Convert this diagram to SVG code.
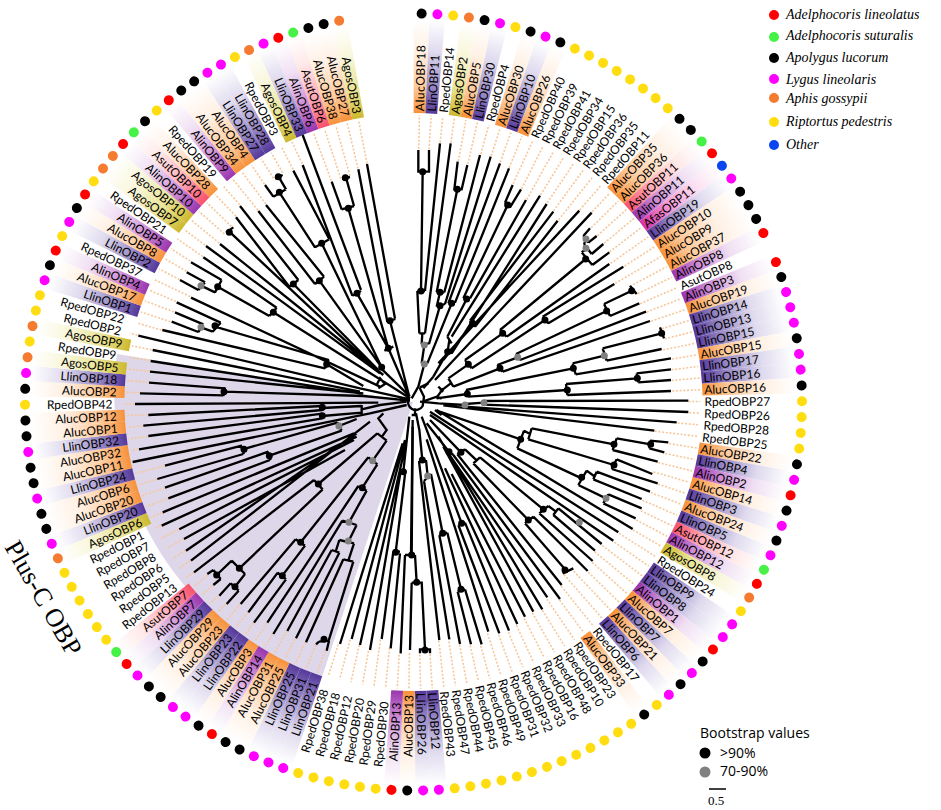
<svg xmlns="http://www.w3.org/2000/svg" width="941" height="810" viewBox="0 0 941 810">
<style>
text{font-family:"Open Sans","Noto Sans","DejaVu Sans",sans-serif;fill:#000}
.R,.L,.Q{font-family:Lato,"Open Sans",sans-serif;font-size:12px;dominant-baseline:central}
.R{transform:rotate(-90deg)}
.L,.Q{transform:rotate(90deg);text-anchor:end}
.o{fill:url(#go)}.v{fill:url(#gv)}.m{fill:url(#gm)}.a{fill:url(#ga)}.s{fill:url(#gs)}.f{fill:url(#gf)}
.dk{fill:#000}.dm{fill:#f0f}.dy{fill:#fd1}.do{fill:#f47b30}.dr{fill:#f00}.dg{fill:#46f246}.db{fill:#0a46f0}
#dotted line{stroke:#f6c79b;stroke-width:1.6;stroke-dasharray:2 1.7;fill:none}
.t{fill:none;stroke:#000;stroke-width:7;stroke-linejoin:miter}
.nk,.ng{fill:none;stroke-linecap:round;stroke-width:21}
.nk{stroke:#000}.ng{stroke:#808080}
.it{font-family:"Liberation Serif",serif;font-style:italic;font-size:14px}
</style>
<defs>
<linearGradient id="go" x1="0" y1="1" x2="0" y2="0"><stop offset="0" stop-color="#f7913a"/><stop offset=".28" stop-color="#fdc99a"/><stop offset=".65" stop-color="#fff0e3"/><stop offset="1" stop-color="#fff"/></linearGradient>
<linearGradient id="gv" x1="0" y1="1" x2="0" y2="0"><stop offset="0" stop-color="#55389a"/><stop offset=".3" stop-color="#9a8cc6"/><stop offset=".65" stop-color="#dfdaee"/><stop offset="1" stop-color="#fff"/></linearGradient>
<linearGradient id="gm" x1="0" y1="1" x2="0" y2="0"><stop offset="0" stop-color="#9a35ae"/><stop offset=".3" stop-color="#cf8fd6"/><stop offset=".65" stop-color="#f0dff3"/><stop offset="1" stop-color="#fff"/></linearGradient>
<linearGradient id="ga" x1="0" y1="1" x2="0" y2="0"><stop offset="0" stop-color="#cdb92e"/><stop offset=".3" stop-color="#e9e393"/><stop offset=".65" stop-color="#f8f6d8"/><stop offset="1" stop-color="#fff"/></linearGradient>
<linearGradient id="gs" x1="0" y1="1" x2="0" y2="0"><stop offset="0" stop-color="#f9516c"/><stop offset=".35" stop-color="#ffb0ba"/><stop offset=".7" stop-color="#ffe8e8"/><stop offset="1" stop-color="#fff"/></linearGradient>
<linearGradient id="gf" x1="0" y1="1" x2="0" y2="0"><stop offset="0" stop-color="#d62fa0"/><stop offset=".35" stop-color="#f39ad6"/><stop offset=".7" stop-color="#fbe0f2"/><stop offset="1" stop-color="#fff"/></linearGradient>
<polygon id="w" points="-5.9,-289 5.9,-289 7.8,-383 -7.8,-383"/>
</defs>
<rect width="941" height="810" fill="#fff"/>
<path id="plusc-sector" d="M413,402L117,354A297,297 0 0 0 322,677Z" fill="#ded7e9"/>
<g transform="translate(413.5 402)">
<g id="n1" transform="rotate(1.2)"><use href="#w" class="o"/><text class="R" x="291" textLength="66">AlucOBP18</text><circle class="dk" cy="-388.5" r="5"/></g>
<g id="n2" transform="rotate(3.53)"><use href="#w" class="v"/><text class="R" x="291">LlinOBP11</text><circle class="dm" cy="-388.5" r="5"/></g>
<g id="n3" transform="rotate(5.87)"><text class="R" x="291">RpedOBP14</text><circle class="dy" cy="-388.5" r="5"/></g>
<g id="n4" transform="rotate(8.2)"><use href="#w" class="a"/><text class="R" x="291">AgosOBP2</text><circle class="do" cy="-388.5" r="5"/></g>
<g id="n5" transform="rotate(10.54)"><use href="#w" class="o"/><text class="R" x="291">AlucOBP5</text><circle class="dk" cy="-388.5" r="5"/></g>
<g id="n6" transform="rotate(12.87)"><use href="#w" class="v"/><text class="R" x="291">LlinOBP30</text><circle class="dm" cy="-388.5" r="5"/></g>
<g id="n7" transform="rotate(15.2)"><text class="R" x="291">RpedOBP4</text><circle class="dy" cy="-388.5" r="5"/></g>
<g id="n8" transform="rotate(17.54)"><use href="#w" class="o"/><text class="R" x="291">AlucOBP30</text><circle class="dk" cy="-388.5" r="5"/></g>
<g id="n9" transform="rotate(19.87)"><use href="#w" class="v"/><text class="R" x="291">LlinOBP10</text><circle class="dm" cy="-388.5" r="5"/></g>
<g id="n10" transform="rotate(22.21)"><use href="#w" class="o"/><text class="R" x="291">AlucOBP26</text><circle class="dk" cy="-388.5" r="5"/></g>
<g id="n11" transform="rotate(24.54)"><text class="R" x="291">RpedOBP40</text><circle class="dy" cy="-388.5" r="5"/></g>
<g id="n12" transform="rotate(26.87)"><text class="R" x="291">RpedOBP39</text><circle class="dy" cy="-388.5" r="5"/></g>
<g id="n13" transform="rotate(29.21)"><text class="R" x="291">RpedOBP41</text><circle class="dy" cy="-388.5" r="5"/></g>
<g id="n14" transform="rotate(31.54)"><text class="R" x="291">RpedOBP34</text><circle class="dy" cy="-388.5" r="5"/></g>
<g id="n15" transform="rotate(33.88)"><text class="R" x="291">RpedOBP15</text><circle class="dy" cy="-388.5" r="5"/></g>
<g id="n16" transform="rotate(36.21)"><text class="R" x="291">RpedOBP36</text><circle class="dy" cy="-388.5" r="5"/></g>
<g id="n17" transform="rotate(38.54)"><text class="R" x="291">RpedOBP35</text><circle class="dy" cy="-388.5" r="5"/></g>
<g id="n18" transform="rotate(40.88)"><text class="R" x="291">RpedOBP11</text><circle class="dy" cy="-388.5" r="5"/></g>
<g id="n19" transform="rotate(43.21)"><use href="#w" class="o"/><text class="R" x="291">AlucOBP35</text><circle class="dk" cy="-388.5" r="5"/></g>
<g id="n20" transform="rotate(45.55)"><use href="#w" class="o"/><text class="R" x="291">AlucOBP36</text><circle class="dk" cy="-388.5" r="5"/></g>
<g id="n21" transform="rotate(47.88)"><use href="#w" class="s"/><text class="R" x="291">AsutOBP11</text><circle class="dg" cy="-388.5" r="5"/></g>
<g id="n22" transform="rotate(50.21)"><use href="#w" class="m"/><text class="R" x="291">AlinOBP11</text><circle class="dr" cy="-388.5" r="5"/></g>
<g id="n23" transform="rotate(52.55)"><use href="#w" class="f"/><text class="R" x="291">AfasOBP11</text><circle class="db" cy="-388.5" r="5"/></g>
<g id="n24" transform="rotate(54.88)"><use href="#w" class="v"/><text class="R" x="291">LlinOBP19</text><circle class="dm" cy="-388.5" r="5"/></g>
<g id="n25" transform="rotate(57.22)"><use href="#w" class="o"/><text class="R" x="291">AlucOBP10</text><circle class="dk" cy="-388.5" r="5"/></g>
<g id="n26" transform="rotate(59.55)"><use href="#w" class="o"/><text class="R" x="291">AlucOBP9</text><circle class="dk" cy="-388.5" r="5"/></g>
<g id="n27" transform="rotate(61.88)"><use href="#w" class="o"/><text class="R" x="291">AlucOBP37</text><circle class="dk" cy="-388.5" r="5"/></g>
<g id="n28" transform="rotate(64.22)"><use href="#w" class="m"/><text class="R" x="291">AlinOBP8</text><circle class="dr" cy="-388.5" r="5"/></g>
<g id="n29" transform="rotate(66.55)"><text class="R" x="291">AsutOBP8</text></g>
<g id="n30" transform="rotate(68.89)"><use href="#w" class="m"/><text class="R" x="291">AlinOBP3</text><circle class="dr" cy="-388.5" r="5"/></g>
<g id="n31" transform="rotate(71.22)"><use href="#w" class="o"/><text class="R" x="291">AlucOBP19</text><circle class="dk" cy="-388.5" r="5"/></g>
<g id="n32" transform="rotate(73.55)"><use href="#w" class="v"/><text class="R" x="291">LlinOBP14</text><circle class="dm" cy="-388.5" r="5"/></g>
<g id="n33" transform="rotate(75.89)"><use href="#w" class="v"/><text class="R" x="291">LlinOBP13</text><circle class="dm" cy="-388.5" r="5"/></g>
<g id="n34" transform="rotate(78.22)"><use href="#w" class="v"/><text class="R" x="291">LlinOBP15</text><circle class="dm" cy="-388.5" r="5"/></g>
<g id="n35" transform="rotate(80.56)"><use href="#w" class="o"/><text class="R" x="291">AlucOBP15</text><circle class="dk" cy="-388.5" r="5"/></g>
<g id="n36" transform="rotate(82.89)"><use href="#w" class="v"/><text class="R" x="291">LlinOBP17</text><circle class="dm" cy="-388.5" r="5"/></g>
<g id="n37" transform="rotate(85.22)"><use href="#w" class="v"/><text class="R" x="291">LlinOBP16</text><circle class="dm" cy="-388.5" r="5"/></g>
<g id="n38" transform="rotate(87.56)"><use href="#w" class="o"/><text class="R" x="291">AlucOBP16</text><circle class="dk" cy="-388.5" r="5"/></g>
<g id="n39" transform="rotate(89.89)"><text class="R" x="291">RpedOBP27</text><circle class="dy" cy="-388.5" r="5"/></g>
<g id="n40" transform="rotate(92.23)"><text class="R" x="291">RpedOBP26</text><circle class="dy" cy="-388.5" r="5"/></g>
<g id="n41" transform="rotate(94.56)"><text class="R" x="291">RpedOBP28</text><circle class="dy" cy="-388.5" r="5"/></g>
<g id="n42" transform="rotate(96.89)"><text class="R" x="291">RpedOBP25</text><circle class="dy" cy="-388.5" r="5"/></g>
<g id="n43" transform="rotate(99.23)"><use href="#w" class="o"/><text class="R" x="291">AlucOBP22</text><circle class="dk" cy="-388.5" r="5"/></g>
<g id="n44" transform="rotate(101.56)"><use href="#w" class="v"/><text class="R" x="291">LlinOBP4</text><circle class="dm" cy="-388.5" r="5"/></g>
<g id="n45" transform="rotate(103.9)"><use href="#w" class="m"/><text class="R" x="291">AlinOBP2</text><circle class="dr" cy="-388.5" r="5"/></g>
<g id="n46" transform="rotate(106.23)"><use href="#w" class="o"/><text class="R" x="291">AlucOBP14</text><circle class="dk" cy="-388.5" r="5"/></g>
<g id="n47" transform="rotate(108.56)"><use href="#w" class="v"/><text class="R" x="291">LlinOBP3</text><circle class="dm" cy="-388.5" r="5"/></g>
<g id="n48" transform="rotate(110.9)"><use href="#w" class="o"/><text class="R" x="291">AlucOBP24</text><circle class="dk" cy="-388.5" r="5"/></g>
<g id="n49" transform="rotate(113.23)"><use href="#w" class="v"/><text class="R" x="291">LlinOBP5</text><circle class="dm" cy="-388.5" r="5"/></g>
<g id="n50" transform="rotate(115.57)"><use href="#w" class="s"/><text class="R" x="291">AsutOBP12</text><circle class="dg" cy="-388.5" r="5"/></g>
<g id="n51" transform="rotate(117.9)"><use href="#w" class="m"/><text class="R" x="291">AlinOBP12</text><circle class="dr" cy="-388.5" r="5"/></g>
<g id="n52" transform="rotate(120.23)"><use href="#w" class="a"/><text class="R" x="291">AgosOBP8</text><circle class="do" cy="-388.5" r="5"/></g>
<g id="n53" transform="rotate(122.57)"><text class="R" x="291">RpedOBP24</text><circle class="dy" cy="-388.5" r="5"/></g>
<g id="n54" transform="rotate(124.9)"><use href="#w" class="v"/><text class="R" x="291">LlinOBP9</text><circle class="dm" cy="-388.5" r="5"/></g>
<g id="n55" transform="rotate(127.24)"><use href="#w" class="v"/><text class="R" x="291">LlinOBP8</text><circle class="dm" cy="-388.5" r="5"/></g>
<g id="n56" transform="rotate(129.57)"><use href="#w" class="m"/><text class="R" x="291">AlinOBP1</text><circle class="dr" cy="-388.5" r="5"/></g>
<g id="n57" transform="rotate(131.9)"><use href="#w" class="o"/><text class="R" x="291">AlucOBP7</text><circle class="dk" cy="-388.5" r="5"/></g>
<g id="n58" transform="rotate(134.24)"><use href="#w" class="v"/><text class="R" x="291">LlinOBP7</text><circle class="dm" cy="-388.5" r="5"/></g>
<g id="n59" transform="rotate(136.57)"><use href="#w" class="o"/><text class="R" x="291">AlucOBP21</text><circle class="dk" cy="-388.5" r="5"/></g>
<g id="n60" transform="rotate(138.91)"><use href="#w" class="v"/><text class="R" x="291">LlinOBP6</text><circle class="dm" cy="-388.5" r="5"/></g>
<g id="n61" transform="rotate(141.24)"><text class="R" x="291">RpedOBP17</text><circle class="dy" cy="-388.5" r="5"/></g>
<g id="n62" transform="rotate(143.57)"><use href="#w" class="o"/><text class="R" x="291">AlucOBP33</text><circle class="dk" cy="-388.5" r="5"/></g>
<g id="n63" transform="rotate(145.91)"><text class="R" x="291">RpedOBP23</text><circle class="dy" cy="-388.5" r="5"/></g>
<g id="n64" transform="rotate(148.24)"><text class="R" x="291">RpedOBP10</text><circle class="dy" cy="-388.5" r="5"/></g>
<g id="n65" transform="rotate(150.58)"><text class="R" x="291">RpedOBP48</text><circle class="dy" cy="-388.5" r="5"/></g>
<g id="n66" transform="rotate(152.91)"><text class="R" x="291">RpedOBP16</text><circle class="dy" cy="-388.5" r="5"/></g>
<g id="n67" transform="rotate(155.24)"><text class="R" x="291">RpedOBP33</text><circle class="dy" cy="-388.5" r="5"/></g>
<g id="n68" transform="rotate(157.58)"><text class="R" x="291">RpedOBP32</text><circle class="dy" cy="-388.5" r="5"/></g>
<g id="n69" transform="rotate(159.91)"><text class="R" x="291">RpedOBP31</text><circle class="dy" cy="-388.5" r="5"/></g>
<g id="n70" transform="rotate(162.25)"><text class="R" x="291">RpedOBP49</text><circle class="dy" cy="-388.5" r="5"/></g>
<g id="n71" transform="rotate(164.58)"><text class="R" x="291">RpedOBP46</text><circle class="dy" cy="-388.5" r="5"/></g>
<g id="n72" transform="rotate(166.91)"><text class="R" x="291">RpedOBP45</text><circle class="dy" cy="-388.5" r="5"/></g>
<g id="n73" transform="rotate(169.25)"><text class="R" x="291">RpedOBP44</text><circle class="dy" cy="-388.5" r="5"/></g>
<g id="n74" transform="rotate(171.58)"><text class="R" x="291">RpedOBP47</text><circle class="dy" cy="-388.5" r="5"/></g>
<g id="n75" transform="rotate(173.92)"><text class="R" x="291">RpedOBP43</text><circle class="dy" cy="-388.5" r="5"/></g>
<g id="n76" transform="rotate(176.25)"><use href="#w" class="v"/><text class="R" x="291">LlinOBP12</text><circle class="dm" cy="-388.5" r="5"/></g>
<g id="n77" transform="rotate(178.58)"><use href="#w" class="v"/><text class="R" x="291" textLength="62">LlinOBP26</text><circle class="dm" cy="-388.5" r="5"/></g>
<g id="n78" transform="rotate(180.92)"><use href="#w" class="o"/><text class="L" x="-293" textLength="62">AlucOBP13</text><circle class="dk" cy="-388.5" r="5"/></g>
<g id="n79" transform="rotate(183.25)"><use href="#w" class="m"/><text class="L" x="-301">AlinOBP13</text><circle class="dr" cy="-388.5" r="5"/></g>
<g id="n80" transform="rotate(185.59)"><text class="Q" x="-301">RpedOBP30</text><circle class="dy" cy="-388.5" r="5"/></g>
<g id="n81" transform="rotate(187.92)"><text class="Q" x="-301">RpedOBP29</text><circle class="dy" cy="-388.5" r="5"/></g>
<g id="n82" transform="rotate(190.25)"><text class="Q" x="-301">RpedOBP20</text><circle class="dy" cy="-388.5" r="5"/></g>
<g id="n83" transform="rotate(192.59)"><text class="Q" x="-301">RpedOBP12</text><circle class="dy" cy="-388.5" r="5"/></g>
<g id="n84" transform="rotate(194.92)"><text class="Q" x="-301">RpedOBP18</text><circle class="dy" cy="-388.5" r="5"/></g>
<g id="n85" transform="rotate(197.26)"><text class="Q" x="-301">RpedOBP38</text><circle class="dy" cy="-388.5" r="5"/></g>
<g id="n86" transform="rotate(199.59)"><use href="#w" class="v"/><text class="L" x="-297">LlinOBP21</text><circle class="dm" cy="-388.5" r="5"/></g>
<g id="n87" transform="rotate(201.92)"><use href="#w" class="v"/><text class="L" x="-297">LlinOBP31</text><circle class="dm" cy="-388.5" r="5"/></g>
<g id="n88" transform="rotate(204.26)"><use href="#w" class="v"/><text class="L" x="-297">LlinOBP25</text><circle class="dm" cy="-388.5" r="5"/></g>
<g id="n89" transform="rotate(206.59)"><use href="#w" class="o"/><text class="L" x="-297">AlucOBP25</text><circle class="dk" cy="-388.5" r="5"/></g>
<g id="n90" transform="rotate(208.93)"><use href="#w" class="o"/><text class="L" x="-297">AlucOBP31</text><circle class="dk" cy="-388.5" r="5"/></g>
<g id="n91" transform="rotate(211.26)"><use href="#w" class="m"/><text class="L" x="-297">AlinOBP14</text><circle class="dr" cy="-388.5" r="5"/></g>
<g id="n92" transform="rotate(213.59)"><use href="#w" class="o"/><text class="L" x="-297">AlucOBP3</text><circle class="dk" cy="-388.5" r="5"/></g>
<g id="n93" transform="rotate(215.93)"><use href="#w" class="v"/><text class="L" x="-297">LlinOBP22</text><circle class="dm" cy="-388.5" r="5"/></g>
<g id="n94" transform="rotate(218.26)"><use href="#w" class="v"/><text class="L" x="-297">LlinOBP23</text><circle class="dm" cy="-388.5" r="5"/></g>
<g id="n95" transform="rotate(220.6)"><use href="#w" class="o"/><text class="L" x="-297">AlucOBP23</text><circle class="dk" cy="-388.5" r="5"/></g>
<g id="n96" transform="rotate(222.93)"><use href="#w" class="o"/><text class="L" x="-297">AlucOBP29</text><circle class="dk" cy="-388.5" r="5"/></g>
<g id="n97" transform="rotate(225.26)"><use href="#w" class="v"/><text class="L" x="-297">LlinOBP29</text><circle class="dm" cy="-388.5" r="5"/></g>
<g id="n98" transform="rotate(227.6)"><use href="#w" class="m"/><text class="L" x="-297">AlinOBP7</text><circle class="dr" cy="-388.5" r="5"/></g>
<g id="n99" transform="rotate(229.93)"><use href="#w" class="s"/><text class="L" x="-297">AsutOBP7</text><circle class="dg" cy="-388.5" r="5"/></g>
<g id="n100" transform="rotate(232.27)"><text class="Q" x="-301">RpedOBP13</text><circle class="dy" cy="-388.5" r="5"/></g>
<g id="n101" transform="rotate(234.6)"><text class="Q" x="-301">RpedOBP5</text><circle class="dy" cy="-388.5" r="5"/></g>
<g id="n102" transform="rotate(236.93)"><text class="Q" x="-301">RpedOBP6</text><circle class="dy" cy="-388.5" r="5"/></g>
<g id="n103" transform="rotate(239.27)"><text class="Q" x="-301">RpedOBP8</text><circle class="dy" cy="-388.5" r="5"/></g>
<g id="n104" transform="rotate(241.6)"><text class="Q" x="-301">RpedOBP7</text><circle class="dy" cy="-388.5" r="5"/></g>
<g id="n105" transform="rotate(243.94)"><text class="Q" x="-301">RpedOBP1</text><circle class="dy" cy="-388.5" r="5"/></g>
<g id="n106" transform="rotate(246.27)"><use href="#w" class="a"/><text class="L" x="-297">AgosOBP6</text><circle class="do" cy="-388.5" r="5"/></g>
<g id="n107" transform="rotate(248.6)"><use href="#w" class="v"/><text class="L" x="-297">LlinOBP20</text><circle class="dm" cy="-388.5" r="5"/></g>
<g id="n108" transform="rotate(250.94)"><use href="#w" class="o"/><text class="L" x="-297">AlucOBP20</text><circle class="dk" cy="-388.5" r="5"/></g>
<g id="n109" transform="rotate(253.27)"><use href="#w" class="o"/><text class="L" x="-297">AlucOBP6</text><circle class="dk" cy="-388.5" r="5"/></g>
<g id="n110" transform="rotate(255.61)"><use href="#w" class="v"/><text class="L" x="-297">LlinOBP24</text><circle class="dm" cy="-388.5" r="5"/></g>
<g id="n111" transform="rotate(257.94)"><use href="#w" class="o"/><text class="L" x="-297">AlucOBP11</text><circle class="dk" cy="-388.5" r="5"/></g>
<g id="n112" transform="rotate(260.27)"><use href="#w" class="o"/><text class="L" x="-297">AlucOBP32</text><circle class="dk" cy="-388.5" r="5"/></g>
<g id="n113" transform="rotate(262.61)"><use href="#w" class="v"/><text class="L" x="-297">LlinOBP32</text><circle class="dm" cy="-388.5" r="5"/></g>
<g id="n114" transform="rotate(264.94)"><use href="#w" class="o"/><text class="L" x="-297">AlucOBP1</text><circle class="dk" cy="-388.5" r="5"/></g>
<g id="n115" transform="rotate(267.28)"><use href="#w" class="o"/><text class="L" x="-297">AlucOBP12</text><circle class="dk" cy="-388.5" r="5"/></g>
<g id="n116" transform="rotate(269.61)"><text class="Q" x="-301">RpedOBP42</text><circle class="dy" cy="-388.5" r="5"/></g>
<g id="n117" transform="rotate(271.94)"><use href="#w" class="o"/><text class="L" x="-297">AlucOBP2</text><circle class="dk" cy="-388.5" r="5"/></g>
<g id="n118" transform="rotate(274.28)"><use href="#w" class="v"/><text class="L" x="-297">LlinOBP18</text><circle class="dm" cy="-388.5" r="5"/></g>
<g id="n119" transform="rotate(276.61)"><use href="#w" class="a"/><text class="L" x="-297">AgosOBP5</text><circle class="do" cy="-388.5" r="5"/></g>
<g id="n120" transform="rotate(278.95)"><text class="Q" x="-301">RpedOBP9</text><circle class="dy" cy="-388.5" r="5"/></g>
<g id="n121" transform="rotate(281.28)"><use href="#w" class="a"/><text class="L" x="-297">AgosOBP9</text><circle class="do" cy="-388.5" r="5"/></g>
<g id="n122" transform="rotate(283.61)"><text class="Q" x="-301">RpedOBP2</text><circle class="dy" cy="-388.5" r="5"/></g>
<g id="n123" transform="rotate(285.95)"><text class="Q" x="-301">RpedOBP22</text><circle class="dy" cy="-388.5" r="5"/></g>
<g id="n124" transform="rotate(288.28)"><use href="#w" class="v"/><text class="L" x="-297">LlinOBP1</text><circle class="dm" cy="-388.5" r="5"/></g>
<g id="n125" transform="rotate(290.62)"><use href="#w" class="o"/><text class="L" x="-297">AlucOBP17</text><circle class="dk" cy="-388.5" r="5"/></g>
<g id="n126" transform="rotate(292.95)"><use href="#w" class="m"/><text class="L" x="-297">AlinOBP4</text><circle class="dr" cy="-388.5" r="5"/></g>
<g id="n127" transform="rotate(295.28)"><text class="Q" x="-301">RpedOBP37</text><circle class="dy" cy="-388.5" r="5"/></g>
<g id="n128" transform="rotate(297.62)"><use href="#w" class="v"/><text class="L" x="-297">LlinOBP2</text><circle class="dm" cy="-388.5" r="5"/></g>
<g id="n129" transform="rotate(299.95)"><use href="#w" class="o"/><text class="L" x="-297">AlucOBP8</text><circle class="dk" cy="-388.5" r="5"/></g>
<g id="n130" transform="rotate(302.29)"><use href="#w" class="m"/><text class="L" x="-297">AlinOBP5</text><circle class="dr" cy="-388.5" r="5"/></g>
<g id="n131" transform="rotate(304.62)"><text class="Q" x="-301">RpedOBP21</text><circle class="dy" cy="-388.5" r="5"/></g>
<g id="n132" transform="rotate(306.95)"><use href="#w" class="a"/><text class="L" x="-297">AgosOBP7</text><circle class="do" cy="-388.5" r="5"/></g>
<g id="n133" transform="rotate(309.29)"><use href="#w" class="a"/><text class="L" x="-297">AgosOBP10</text><circle class="do" cy="-388.5" r="5"/></g>
<g id="n134" transform="rotate(311.62)"><use href="#w" class="m"/><text class="L" x="-297">AlinOBP10</text><circle class="dr" cy="-388.5" r="5"/></g>
<g id="n135" transform="rotate(313.96)"><use href="#w" class="s"/><text class="L" x="-297">AsutOBP10</text><circle class="dg" cy="-388.5" r="5"/></g>
<g id="n136" transform="rotate(316.29)"><use href="#w" class="o"/><text class="L" x="-297">AlucOBP28</text><circle class="dk" cy="-388.5" r="5"/></g>
<g id="n137" transform="rotate(318.62)"><text class="Q" x="-301">RpedOBP19</text><circle class="dy" cy="-388.5" r="5"/></g>
<g id="n138" transform="rotate(320.96)"><use href="#w" class="m"/><text class="L" x="-297">AlinOBP9</text><circle class="dr" cy="-388.5" r="5"/></g>
<g id="n139" transform="rotate(323.29)"><use href="#w" class="o"/><text class="L" x="-297">AlucOBP34</text><circle class="dk" cy="-388.5" r="5"/></g>
<g id="n140" transform="rotate(325.63)"><use href="#w" class="o"/><text class="L" x="-297">AlucOBP4</text><circle class="dk" cy="-388.5" r="5"/></g>
<g id="n141" transform="rotate(327.96)"><use href="#w" class="v"/><text class="L" x="-297">LlinOBP27</text><circle class="dm" cy="-388.5" r="5"/></g>
<g id="n142" transform="rotate(330.29)"><use href="#w" class="v"/><text class="L" x="-297">LlinOBP28</text><circle class="dm" cy="-388.5" r="5"/></g>
<g id="n143" transform="rotate(332.63)"><text class="Q" x="-301">RpedOBP3</text><circle class="dy" cy="-388.5" r="5"/></g>
<g id="n144" transform="rotate(334.96)"><use href="#w" class="a"/><text class="L" x="-294">AgosOBP4</text><circle class="do" cy="-388.5" r="5"/></g>
<g id="n145" transform="rotate(337.3)"><use href="#w" class="v"/><text class="L" x="-294">LlinOBP33</text><circle class="dm" cy="-388.5" r="5"/></g>
<g id="n146" transform="rotate(339.63)"><use href="#w" class="m"/><text class="L" x="-294">AlinOBP6</text><circle class="dr" cy="-388.5" r="5"/></g>
<g id="n147" transform="rotate(341.96)"><use href="#w" class="s"/><text class="L" x="-294">AsutOBP6</text><circle class="dg" cy="-388.5" r="5"/></g>
<g id="n148" transform="rotate(344.3)"><use href="#w" class="o"/><text class="L" x="-294">AlucOBP38</text><circle class="dk" cy="-388.5" r="5"/></g>
<g id="n149" transform="rotate(346.63)"><use href="#w" class="o"/><text class="L" x="-294">AlucOBP27</text><circle class="dk" cy="-388.5" r="5"/></g>
<g id="n150" transform="rotate(348.97)"><use href="#w" class="a"/><text class="L" x="-294">AgosOBP3</text><circle class="do" cy="-388.5" r="5"/></g>
</g>
<g id="connectors">
<g id="dotted" transform="translate(413.5 402)">
<line transform="rotate(1.2)" y1="-253" y2="-287"/><line transform="rotate(3.53)" y1="-253" y2="-287"/><line transform="rotate(5.87)" y1="-261" y2="-287"/><line transform="rotate(8.2)" y1="-262" y2="-287"/><line transform="rotate(10.54)" y1="-245" y2="-287"/><line transform="rotate(12.87)" y1="-244" y2="-287"/><line transform="rotate(15.2)" y1="-257" y2="-287"/><line transform="rotate(17.54)" y1="-258" y2="-287"/><line transform="rotate(19.87)" y1="-255" y2="-287"/><line transform="rotate(22.21)" y1="-253" y2="-287"/>
<line transform="rotate(24.54)" y1="-240" y2="-287"/><line transform="rotate(26.87)" y1="-239" y2="-287"/><line transform="rotate(29.21)" y1="-232" y2="-287"/><line transform="rotate(31.54)" y1="-243" y2="-287"/><line transform="rotate(33.88)" y1="-240" y2="-287"/><line transform="rotate(36.21)" y1="-237" y2="-287"/><line transform="rotate(38.54)" y1="-233" y2="-287"/><line transform="rotate(40.88)" y1="-254" y2="-287"/><line transform="rotate(43.21)" y1="-261" y2="-287"/><line transform="rotate(45.55)" y1="-249" y2="-287"/>
<line transform="rotate(47.88)" y1="-248" y2="-287"/><line transform="rotate(50.21)" y1="-248" y2="-287"/><line transform="rotate(52.55)" y1="-247" y2="-287"/><line transform="rotate(54.88)" y1="-241" y2="-287"/><line transform="rotate(57.22)" y1="-251" y2="-287"/><line transform="rotate(59.55)" y1="-234" y2="-287"/><line transform="rotate(61.88)" y1="-249" y2="-287"/><line transform="rotate(64.22)" y1="-249" y2="-287"/><line transform="rotate(66.55)" y1="-247" y2="-287"/><line transform="rotate(68.89)" y1="-250" y2="-287"/>
<line transform="rotate(71.22)" y1="-251" y2="-287"/><line transform="rotate(73.55)" y1="-259" y2="-287"/><line transform="rotate(75.89)" y1="-259" y2="-287"/><line transform="rotate(78.22)" y1="-255" y2="-287"/><line transform="rotate(80.56)" y1="-262" y2="-287"/><line transform="rotate(82.89)" y1="-260" y2="-287"/><line transform="rotate(85.22)" y1="-259" y2="-287"/><line transform="rotate(87.56)" y1="-259" y2="-287"/><line transform="rotate(89.89)" y1="-275" y2="-287"/><line transform="rotate(92.23)" y1="-276" y2="-287"/>
<line transform="rotate(94.56)" y1="-265" y2="-287"/><line transform="rotate(96.89)" y1="-243" y2="-287"/><line transform="rotate(99.23)" y1="-259" y2="-287"/><line transform="rotate(101.56)" y1="-257" y2="-287"/><line transform="rotate(103.9)" y1="-252" y2="-287"/><line transform="rotate(106.23)" y1="-250" y2="-287"/><line transform="rotate(108.56)" y1="-258" y2="-287"/><line transform="rotate(110.9)" y1="-254" y2="-287"/><line transform="rotate(113.23)" y1="-249" y2="-287"/><line transform="rotate(115.57)" y1="-252" y2="-287"/>
<line transform="rotate(117.9)" y1="-252" y2="-287"/><line transform="rotate(120.23)" y1="-254" y2="-287"/><line transform="rotate(122.57)" y1="-244" y2="-287"/><line transform="rotate(124.9)" y1="-245" y2="-287"/><line transform="rotate(127.24)" y1="-237" y2="-287"/><line transform="rotate(129.57)" y1="-235" y2="-287"/><line transform="rotate(131.9)" y1="-240" y2="-287"/><line transform="rotate(134.24)" y1="-244" y2="-287"/><line transform="rotate(136.57)" y1="-233" y2="-287"/><line transform="rotate(138.91)" y1="-229" y2="-287"/>
<line transform="rotate(141.24)" y1="-236" y2="-287"/><line transform="rotate(143.57)" y1="-246" y2="-287"/><line transform="rotate(145.91)" y1="-238" y2="-287"/><line transform="rotate(148.24)" y1="-245" y2="-287"/><line transform="rotate(150.58)" y1="-242" y2="-287"/><line transform="rotate(152.91)" y1="-243" y2="-287"/><line transform="rotate(155.24)" y1="-246" y2="-287"/><line transform="rotate(157.58)" y1="-249" y2="-287"/><line transform="rotate(159.91)" y1="-248" y2="-287"/><line transform="rotate(162.25)" y1="-243" y2="-287"/>
<line transform="rotate(164.58)" y1="-253" y2="-287"/><line transform="rotate(166.91)" y1="-250" y2="-287"/><line transform="rotate(169.25)" y1="-247" y2="-287"/><line transform="rotate(171.58)" y1="-242" y2="-287"/><line transform="rotate(173.92)" y1="-240" y2="-287"/><line transform="rotate(176.25)" y1="-249" y2="-287"/><line transform="rotate(178.58)" y1="-249" y2="-287"/><line transform="rotate(180.92)" y1="-251" y2="-287"/><line transform="rotate(183.25)" y1="-253" y2="-287"/><line transform="rotate(185.59)" y1="-247" y2="-287"/>
<line transform="rotate(187.92)" y1="-240" y2="-287"/><line transform="rotate(190.25)" y1="-253" y2="-287"/><line transform="rotate(192.59)" y1="-249" y2="-287"/><line transform="rotate(194.92)" y1="-246" y2="-287"/><line transform="rotate(197.26)" y1="-254" y2="-287"/><line transform="rotate(199.59)" y1="-264" y2="-287"/><line transform="rotate(201.92)" y1="-262" y2="-287"/><line transform="rotate(204.26)" y1="-264" y2="-287"/><line transform="rotate(206.59)" y1="-265" y2="-287"/><line transform="rotate(208.93)" y1="-262" y2="-287"/>
<line transform="rotate(211.26)" y1="-272" y2="-287"/><line transform="rotate(213.59)" y1="-265" y2="-287"/><line transform="rotate(215.93)" y1="-273" y2="-287"/><line transform="rotate(218.26)" y1="-268" y2="-287"/><line transform="rotate(220.6)" y1="-266" y2="-287"/><line transform="rotate(222.93)" y1="-276" y2="-287"/><line transform="rotate(225.26)" y1="-275" y2="-287"/><line transform="rotate(227.6)" y1="-272" y2="-287"/><line transform="rotate(229.93)" y1="-269" y2="-287"/><line transform="rotate(232.27)" y1="-278" y2="-287"/>
<line transform="rotate(234.6)" y1="-274" y2="-287"/><line transform="rotate(236.93)" y1="-272" y2="-287"/><line transform="rotate(239.27)" y1="-268" y2="-287"/><line transform="rotate(241.6)" y1="-267" y2="-287"/><line transform="rotate(243.94)" y1="-281" y2="-287"/><line transform="rotate(246.27)" y1="-275" y2="-287"/><line transform="rotate(248.6)" y1="-264" y2="-287"/><line transform="rotate(250.94)" y1="-263" y2="-287"/><line transform="rotate(253.27)" y1="-268" y2="-287"/><line transform="rotate(255.61)" y1="-257" y2="-287"/>
<line transform="rotate(260.27)" y1="-279" y2="-287"/><line transform="rotate(262.61)" y1="-268" y2="-287"/><line transform="rotate(264.94)" y1="-272" y2="-287"/><line transform="rotate(267.28)" y1="-266" y2="-287"/><line transform="rotate(269.61)" y1="-279" y2="-290"/><line transform="rotate(271.94)" y1="-274" y2="-287"/><line transform="rotate(274.28)" y1="-266" y2="-287"/><line transform="rotate(276.61)" y1="-266" y2="-287"/><line transform="rotate(278.95)" y1="-267" y2="-287"/><line transform="rotate(281.28)" y1="-267" y2="-287"/>
<line transform="rotate(283.61)" y1="-284" y2="-292"/><line transform="rotate(285.95)" y1="-262" y2="-287"/><line transform="rotate(288.28)" y1="-256" y2="-287"/><line transform="rotate(290.62)" y1="-256" y2="-287"/><line transform="rotate(292.95)" y1="-258" y2="-287"/><line transform="rotate(295.28)" y1="-247" y2="-287"/><line transform="rotate(297.62)" y1="-264" y2="-287"/><line transform="rotate(299.95)" y1="-262" y2="-287"/><line transform="rotate(302.29)" y1="-264" y2="-287"/><line transform="rotate(304.62)" y1="-256" y2="-287"/>
<line transform="rotate(306.95)" y1="-261" y2="-287"/><line transform="rotate(309.29)" y1="-251" y2="-287"/><line transform="rotate(311.62)" y1="-253" y2="-287"/><line transform="rotate(313.96)" y1="-253" y2="-287"/><line transform="rotate(316.29)" y1="-257" y2="-287"/><line transform="rotate(318.62)" y1="-263" y2="-287"/><line transform="rotate(320.96)" y1="-247" y2="-287"/><line transform="rotate(323.29)" y1="-247" y2="-287"/><line transform="rotate(325.63)" y1="-264" y2="-287"/><line transform="rotate(327.96)" y1="-264" y2="-287"/>
<line transform="rotate(330.29)" y1="-264" y2="-287"/><line transform="rotate(332.63)" y1="-262" y2="-287"/><line transform="rotate(334.96)" y1="-263" y2="-287"/><line transform="rotate(339.63)" y1="-236" y2="-287"/><line transform="rotate(341.96)" y1="-235" y2="-287"/><line transform="rotate(344.3)" y1="-235" y2="-287"/><line transform="rotate(346.63)" y1="-240" y2="-287"/><line transform="rotate(348.97)" y1="-243" y2="-287"/>
</g>
<g id="tree-ul" transform="translate(130 130) scale(.33333)">
<path class="t" d="M711,102L795,566M685,118L772,575M770,576L796,567M780,572L838,800M605,155L635,238M636,146L660,141M648,143L672,228M635,238L672,228M655,235L775,655M518,15L693,480M518,105L667,497M667,497L693,482M681,490L775,655M763,662L790,650M775,655L838,800M435,145L458,135M447,142L468,178M405,165L430,200M430,200L468,178M448,187L555,352M490,122L598,328M555,352L598,328M575,340L755,712M408,225L582,440M385,243L555,462M555,462L582,440M568,452L755,712M330,228L505,450M318,262L478,470M478,470L505,450M490,462L745,720M288,308L310,292M298,305L745,725M270,342L760,735M228,348L750,730M220,382L440,533M418,558L440,533M430,547L745,745M183,397L275,450M170,427L225,457M150,450L205,480M225,457L205,480M213,467L255,487M275,450L255,487M263,470L418,558M183,503L750,770M140,517L272,578M135,547L220,583M125,575L205,606M220,583L205,606M213,592L248,605M272,578L248,605M255,590L597,690M97,600L585,715M597,690L585,715M590,703L700,768M25,617L690,775M68,660L690,785M62,693L690,790M60,725L700,790M57,758L285,775M30,790L280,796M285,772L280,798M282,785L700,798M740,765L750,745L765,762L745,775M750,712L840,800M745,745L840,805M690,775L840,808M700,798L840,812"/>
<path class="nk" d="M780,572h0M775,655h0M655,235h0M646,143h0M681,490h0M448,187h0M445,140h0M575,340h0M568,452h0M490,462h0M298,307h0M430,547h0M263,470h0M255,587h0M590,703h0M282,785h0M755,712h0"/>
<path class="ng" d="M213,467h0M213,592h0"/>
</g>
<g id="tree-ur" transform="translate(410 130) scale(.33333)">
<path class="t" d="M25,60V125H57V60M38,125L33,483M22,483H45M90,40L45,483M22,483L28,610M122,40L45,610M28,610H45M37,610L35,643M143,95L133,178H155L172,105M142,178L80,487M80,487H103M210,75L103,487M90,487L80,530M80,530L105,522M242,80L105,522M90,527L57,642M33,643L57,640M43,645L35,700M270,100L115,520M297,115L135,518M115,520H135M125,520L52,700M35,700H52M43,702L25,770M285,218L308,165M300,232L333,178M285,218L300,232M293,225L160,505M160,505L180,505M348,210L180,505M170,507L112,620M390,197L125,620M112,620L125,640M118,630L113,665M105,660L125,670M410,222L125,670M113,665L70,740M430,245L180,572M443,272L195,590M180,572L195,590M188,580L100,690M508,242L85,700M545,248L75,750M70,740L40,775M540,295L520,318M560,318L535,338M520,318L535,338M528,328L522,343M580,342L545,372M522,343L545,372M530,357L515,367M598,367L547,405M515,367L547,405M527,387L270,600M270,600L290,620M598,402L290,620M278,610L165,690M165,690L185,715M640,410L398,560M613,462L415,580M398,560L415,580M405,570L185,715M175,703L115,745M115,745L130,770M660,467L680,492M670,480L582,522M582,522L600,558M688,520L600,558M590,543L318,672M318,672L330,690M708,545L330,690M323,682L262,705M262,705L278,725M720,573L278,725M270,715L130,770M122,760L90,785M750,592L762,625M755,610L578,655M578,655L590,692M755,657L590,692M583,677L488,700M488,700L497,733M783,685L497,733M490,715L168,780M168,780L175,800M472,780L175,800M468,762L472,795M682,745L468,762M680,730L685,757M783,718L680,730M783,750L685,757M783,783L472,795M172,792L80,805M78,805L100,775M85,770L100,785M25,770L5,805"/>
<path class="nk" d="M38,125h0M33,483h0M90,527h0M90,487h0M125,520h0M142,178h0M170,507h0M188,580h0M113,665h0M293,225h0M527,387h0M278,610h0M405,570h0M175,703h0M590,543h0M665,482h0M270,715h0M490,715h0M755,610h0M682,745h0M472,780h0M172,792h0"/>
<path class="ng" d="M43,645h0M43,702h0M528,327h0M528,355h0M323,682h0M583,677h0"/>
</g>
<g id="tree-lr" transform="translate(410 400) scale(.33333)">
<path class="t" d="M835,2L222,3M835,36L222,14M222,3V14M222,8L165,12M800,67L165,20M165,10V22M165,15L85,10M733,92L100,16M332,118L80,32M342,92L322,145M342,92L360,102M365,85L355,118M720,122L718,145M775,127L720,122M763,157L718,145M722,133L620,115M620,115L608,150M743,185L608,150M612,133L365,85M355,118L612,195M620,178L605,207M727,222L620,178M743,250L605,207M322,145L515,235M530,212L505,255M530,212L552,228M560,215L550,238M720,275L560,215M695,297L550,238M505,255L588,295M595,283L580,310M695,325L595,283M677,355L580,310M668,387L80,30M625,397L60,35M610,422L60,45M575,432L445,325M555,452L430,345M445,325L430,345M438,335L415,318M415,318L388,340M548,483L388,340M400,328L210,172M533,513L370,350M370,350L345,370M465,508L345,370M458,520L490,505M355,360L190,190M190,190L210,172M200,181L165,148M165,148L142,163M455,555L142,163M153,157L60,60M450,597L130,165M412,592L105,145M105,145L130,165M117,155L50,70M397,628L85,110M370,635L100,140M345,650L125,222M322,672L105,205M297,692L165,368M268,700L145,375M145,375L165,368M155,370L75,155M235,695L50,118M88,720L27,183M27,183H48M118,718L42,243M42,243L63,222M48,180L53,228M63,222L98,400M88,405L112,398M150,732L88,405M112,398L153,568M143,575L165,568M183,733L143,575M215,733L165,568M37,180L28,90L18,40M30,760V748H60V760M45,748L35,545M5,548H35M0,750L5,548M20,547L15,465M15,465H-5M5,465L8,80M85,10L30,5M75,155L35,50"/>
<path class="nk" d="M332,118h0M612,133h0M722,133h0M612,195h0M515,232h0M400,328h0M355,360h0M465,510h0M37,180h0M98,400h0M155,370h0M153,568h0M20,547h0M5,465h0M45,750h0M117,155h0M153,157h0"/>
<path class="ng" d="M165,15h0M222,8h0M588,295h0M508,367h0M53,228h0"/>
</g>
<g id="tree-ll" transform="translate(130 400) scale(.33333)">
<path class="t" d="M15,12L745,8M55,45L577,18M40,77L577,30M577,15V33M577,24L695,18M55,108L577,41M27,148L577,55M577,39V57M577,48L695,38M695,15V42M695,28L750,15M105,197L335,137M82,237L340,162M332,135L342,162M338,148L622,68M105,263L415,155M115,295L420,180M413,155L422,180M418,167L635,92M622,68L635,92M627,78L680,57M8,186L720,40M98,337L672,100M95,377L680,110M148,388L672,120M162,417L645,150M168,452L680,100M183,482L720,65M192,517L552,240M552,240L578,268M565,252L742,100M232,522L250,510M250,555L272,537M250,510L272,537M260,525L305,482M268,587L302,550M290,612L326,572M302,550L326,572M315,560L345,522M305,482L345,522M328,505L578,268M332,612L497,418M355,637L443,518M372,668L468,538M443,518L468,538M457,527L525,437M497,418L525,437M512,427L715,172M412,668L685,258M685,258L710,272M430,702L637,362M637,362L680,375M472,693L605,450M498,715L628,458M605,450L628,458M617,455L628,420M628,420L672,430M657,367L710,272M655,425L680,375M528,727L640,478M640,478L670,485M672,430L655,482M670,485L596,722M567,725L597,722M558,733L567,725M590,752L597,722M697,263L742,193M715,172L742,193M728,182L770,122M742,100L770,122M756,110L770,90L745,55L760,40M630,732L818,130M665,717L825,120M690,735L828,130M720,750L812,215M812,215H830M755,717L790,455M782,745L810,460M790,455H810M797,457L826,215M820,215L838,50M812,760L825,465M825,465H855M843,465L848,60M720,40L830,15M750,15L830,5"/>
<path class="nk" d="M577,22h0M577,47h0M342,148h0M418,167h0M565,252h0M260,525h0M328,505h0M315,560h0M512,427h0M457,527h0M697,263h0M582,718h0M797,457h0M820,215h0"/>
<path class="ng" d="M627,78h0M728,182h0M657,367h0M655,423h0"/>
</g>
<path class="hub" transform="translate(300 300) scale(.33333)" fill="none" stroke="#000" stroke-width="7" d="M327,295A22,22 0 0 0 368,318L372,290L358,262M327,295L300,300M368,305L410,290L425,296M360,262L385,250M345,325V345H335M405,330L425,345"/>
</g>
<g id="legend">
<circle class="dr" cx="774" cy="15" r="5"/><text class="it" x="786" y="19">Adelphocoris lineolatus</text>
<circle class="dg" cx="774" cy="37" r="5"/><text class="it" x="786" y="40">Adelphocoris suturalis</text>
<circle class="dk" cx="774" cy="58" r="5"/><text class="it" x="786" y="62">Apolygus lucorum</text>
<circle class="dm" cx="774" cy="79" r="5"/><text class="it" x="786" y="84">Lygus lineolaris</text>
<circle class="do" cx="774" cy="98" r="5"/><text class="it" x="786" y="103">Aphis gossypii</text>
<circle class="dy" cx="774" cy="122" r="5"/><text class="it" x="786" y="126">Riptortus pedestris</text>
<circle class="db" cx="774" cy="145" r="5"/><text class="it" x="786" y="149">Other</text>
</g>
<g id="bootstrap">
<text x="700" y="738" font-size="14">Bootstrap values</text>
<circle class="dk" cx="705" cy="753" r="5.5"/><text x="720" y="758" font-size="14">&gt;90%</text>
<circle cx="705" cy="772" r="5.5" fill="#808080"/><text x="720" y="776" font-size="14">70-90%</text>
<path d="M709,789H726" stroke="#000" stroke-width="1.5" fill="none"/>
<text x="708" y="805" font-size="13" style="font-family:'Liberation Serif',serif">0.5</text>
</g>
<text id="plusc" transform="translate(4 547) rotate(60)" font-size="26" style="font-family:'Liberation Serif',serif">Plus-C OBP</text>
</svg>
